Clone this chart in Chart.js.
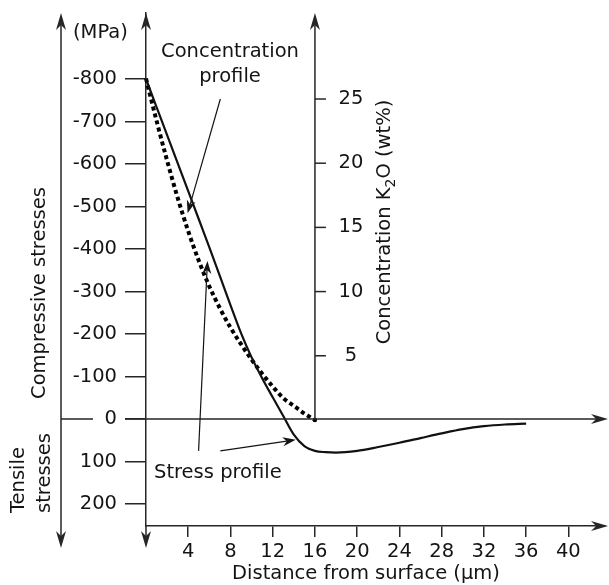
<!DOCTYPE html>
<html><head><meta charset="utf-8">
<script src="https://cdn.jsdelivr.net/npm/chart.js@4/dist/chart.umd.min.js"></script>
<style>html,body{margin:0;padding:0;background:#fff}#wrap{width:609px;height:585px}</style>
</head><body><div id="wrap"><canvas id="c" width="609" height="585"></canvas></div>
<script>
// ---- data ----
const stressDistance = [0,1,2,3,4,5,6,7,8,9,10,11,12,13,14,15,16,17,18,20,22,24,26,28,30,32,34,36];
const stressValues   = [-800,-734,-668,-602,-536,-470,-404,-336,-268,-202,-145,-96,-51,-7,37,64,75,78,79,75,66,56,45,34,24,17,13,11];
const concDistance = [0,1,2,3,4,5,6,7,8,9,10,11,12,13,14,15,16];
const concValues   = [26.6,23.3,20.2,17.3,14.7,12.4,10.4,8.7,7.2,5.9,4.7,3.6,2.6,1.7,1.1,0.5,0];
const xTickValues = [4,8,12,16,20,24,28,32,36,40];
const stressTickValues = [-800,-700,-600,-500,-400,-300,-200,-100,0,100,200];
const concTickValues = [5,10,15,20,25];

const FONT = '"DejaVu Sans", Verdana, sans-serif';
const FS = 19.5;
const INK = '#141414';
const AX = '#262626';

function arrowHead(ctx, x, y, angle, len, hw) {
  ctx.save();
  ctx.translate(x, y); ctx.rotate(angle);
  ctx.beginPath();
  ctx.moveTo(0, 0);
  ctx.lineTo(-len, -hw);
  ctx.lineTo(-len * 0.7, 0);
  ctx.lineTo(-len, hw);
  ctx.closePath();
  ctx.fill();
  ctx.restore();
}
function arrowLine(ctx, x1, y1, x2, y2, len, hw, lw) {
  ctx.beginPath(); ctx.lineWidth = lw;
  const a = Math.atan2(y2 - y1, x2 - x1);
  ctx.moveTo(x1, y1); ctx.lineTo(x2 - Math.cos(a) * len * 0.7, y2 - Math.sin(a) * len * 0.7); ctx.stroke();
  arrowHead(ctx, x2, y2, a, len, hw);
}

const decor = {
  id: 'decor',
  afterDraw(chart) {
    const ctx = chart.ctx;
    const xs = chart.scales.x, ys = chart.scales.y, cs = chart.scales.y2;
    const ca = chart.chartArea;
    const top = ca.top, bottom = ca.bottom, left = ca.left, right = chart.width - 1;
    const outerX = 61, lowTip = 548;
    ctx.save();
    ctx.strokeStyle = AX; ctx.fillStyle = AX; ctx.lineWidth = 1.5;
    // outer left axis
    ctx.beginPath(); ctx.moveTo(outerX, top + 10); ctx.lineTo(outerX, lowTip - 10); ctx.stroke();
    arrowHead(ctx, outerX, top, -Math.PI / 2, 17, 5);
    arrowHead(ctx, outerX, lowTip, Math.PI / 2, 17, 5);
    // inner axis extension
    ctx.beginPath(); ctx.moveTo(left, bottom); ctx.lineTo(left, lowTip - 10); ctx.stroke();
    arrowHead(ctx, left, top, -Math.PI / 2, 17, 5);
    arrowHead(ctx, left, lowTip, Math.PI / 2, 17, 5);
    // zero line
    const y0 = ys.getPixelForValue(0);
    ctx.beginPath(); ctx.moveTo(outerX, y0); ctx.lineTo(93, y0);
    ctx.moveTo(125, y0); ctx.lineTo(right - 10, y0); ctx.stroke();
    arrowHead(ctx, right, y0, 0, 17, 5);
    // bottom axis arrow
    arrowHead(ctx, right, bottom, 0, 17, 5);
    // concentration axis
    const cx = xs.getPixelForValue(16);
    ctx.beginPath(); ctx.moveTo(cx, cs.getPixelForValue(0)); ctx.lineTo(cx, top + 10); ctx.stroke();
    arrowHead(ctx, cx, top, -Math.PI / 2, 17, 5);
    ctx.fillStyle = INK;
    ctx.font = FS + 'px ' + FONT;
    ctx.textAlign = 'center'; ctx.textBaseline = 'middle';
    concTickValues.forEach(v => {
      const py = cs.getPixelForValue(v);
      ctx.beginPath(); ctx.moveTo(cx, py); ctx.lineTo(cx + 11, py); ctx.stroke();
      ctx.fillText(String(v), cx + 36, py);
    });
    // texts
    ctx.textAlign = 'left';
    ctx.fillText('(MPa)', 73, 33);
    ctx.textAlign = 'center';
    ctx.fillText('Concentration', 230, 52);
    ctx.fillText('profile', 230, 77);
    ctx.textAlign = 'left';
    ctx.fillText('Stress profile', 154, 473);
    ctx.textAlign = 'center';
    ctx.fillText('Distance from surface (\u03bcm)', 366, 574);
    // rotated left titles
    ctx.save(); ctx.translate(40, 293); ctx.rotate(-Math.PI / 2);
    ctx.fillText('Compressive stresses', 0, 0); ctx.restore();
    ctx.save(); ctx.translate(19, 513); ctx.rotate(-Math.PI / 2);
    ctx.textAlign = 'left'; ctx.fillText('Tensile', 0, 0); ctx.restore();
    ctx.save(); ctx.translate(45, 513); ctx.rotate(-Math.PI / 2);
    ctx.textAlign = 'left'; ctx.fillText('stresses', 0, 0); ctx.restore();
    // right title with subscript
    ctx.save(); ctx.translate(385, 222); ctx.rotate(-Math.PI / 2);
    const p1 = 'Concentration K', p2 = '2', p3 = 'O (wt%)';
    const subF = Math.round(FS * 0.7) + 'px ' + FONT;
    ctx.font = FS + 'px ' + FONT;
    const w1 = ctx.measureText(p1).width, w3 = ctx.measureText(p3).width;
    ctx.font = subF;
    const w2 = ctx.measureText(p2).width;
    let sx = -(w1 + w2 + w3) / 2;
    ctx.textAlign = 'left';
    ctx.font = FS + 'px ' + FONT; ctx.fillText(p1, sx, 0); sx += w1;
    ctx.font = subF; ctx.fillText(p2, sx, 6); sx += w2;
    ctx.font = FS + 'px ' + FONT; ctx.fillText(p3, sx, 0);
    ctx.restore();
    // annotation arrows (data coordinates)
    ctx.strokeStyle = INK; ctx.fillStyle = INK;
    const P = (xv, sv) => [xs.getPixelForValue(xv), ys.getPixelForValue(sv)];
    let a = P(7.04, -753), b = P(3.94, -484);
    arrowLine(ctx, a[0], a[1], b[0], b[1], 13, 4.5, 1.2);
    a = P(4.98, 75); b = P(5.82, -372);
    arrowLine(ctx, a[0], a[1], b[0], b[1], 13, 4.5, 1.2);
    a = P(7.04, 75); b = P(14.18, 49);
    arrowLine(ctx, a[0], a[1], b[0], b[1], 13, 4.5, 1.2);
    ctx.restore();
  }
};

const tickFont = { family: FONT, size: FS };
new Chart(document.getElementById('c'), {
  type: 'line',
  data: {
    datasets: [
      {
        label: 'Stress profile',
        data: stressDistance.map((d, i) => ({ x: d, y: stressValues[i] })),
        yAxisID: 'y', borderColor: '#111', borderWidth: 2.2, pointRadius: 0,
        cubicInterpolationMode: 'monotone', fill: false, clip: false
      },
      {
        label: 'Concentration profile',
        data: concDistance.map((d, i) => ({ x: d, y: concValues[i] })),
        yAxisID: 'y2', borderColor: '#000', borderWidth: 4, borderDash: [4, 3.2],
        borderCapStyle: 'butt', backgroundColor: '#000',
        pointRadius: ctx => ctx.dataIndex === concDistance.length - 1 ? 2.2 : 0,
        pointBorderWidth: 0,
        cubicInterpolationMode: 'monotone', fill: false, clip: false
      }
    ]
  },
  options: {
    responsive: false, animation: false, devicePixelRatio: 1,
    layout: { padding: { top: 13, right: 0, left: 0, bottom: 0 } },
    plugins: { legend: { display: false }, tooltip: { enabled: false } },
    scales: {
      x: {
        type: 'linear', position: 'bottom', min: 0, max: 43.47,
        afterBuildTicks: s => { s.ticks = xTickValues.map(v => ({ value: v })); },
        afterFit: s => { s.height = 59; s.paddingLeft = 0; s.paddingRight = 0; },
        ticks: { color: INK, font: tickFont, padding: 3, maxRotation: 0, autoSkip: false },
        grid: { drawOnChartArea: false, drawTicks: true, tickLength: 11, color: AX, lineWidth: 1.5 },
        border: { display: true, color: AX, width: 1.5 }
      },
      y: {
        type: 'linear', position: 'left', reverse: true, min: -955.3, max: 251.8,
        afterBuildTicks: s => { s.ticks = stressTickValues.map(v => ({ value: v })); },
        afterFit: s => { s.width = 146; s.paddingTop = 0; s.paddingBottom = 0; },
        ticks: { color: INK, font: tickFont, padding: 8, autoSkip: false },
        grid: { drawOnChartArea: false, drawTicks: true, tickLength: 21, color: AX, lineWidth: 1.5 },
        border: { display: true, color: AX, width: 1.5 }
      },
      y2: {
        type: 'linear', position: 'right', display: true, min: -8.26, max: 31.70,
        afterBuildTicks: s => { s.ticks = concTickValues.map(v => ({ value: v })); },
        afterFit: s => { s.width = 0; s.paddingTop = 0; s.paddingBottom = 0; },
        ticks: { display: false },
        grid: { display: false, drawTicks: false },
        border: { display: false }
      }
    }
  },
  plugins: [decor]
});
</script>
</body></html>
